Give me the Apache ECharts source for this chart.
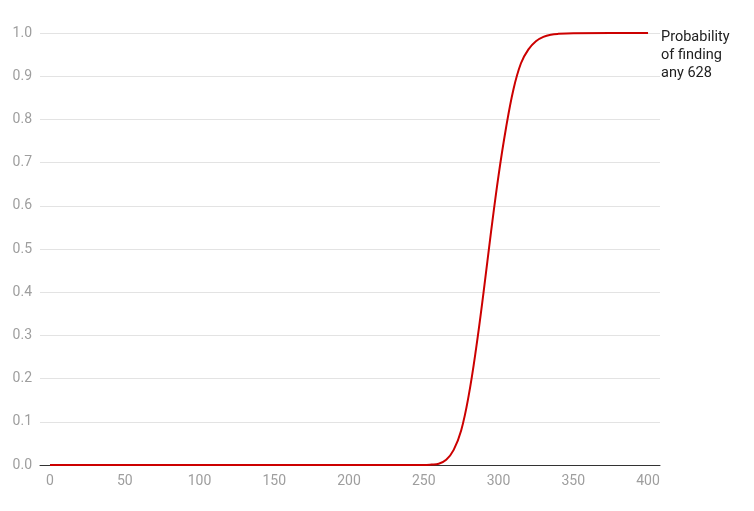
<!DOCTYPE html>
<html><head><meta charset="utf-8">
<script src="https://cdn.jsdelivr.net/npm/echarts@6/dist/echarts.min.js"></script>
<style>html,body{margin:0;padding:0;background:#fff}#c{width:754px;height:511px}</style>
</head><body><div id="c"></div>
<script>
const xValues = [0, 50, 100, 150, 200, 250, 255, 260, 265, 270, 275, 280, 285, 290, 295, 300, 305, 310, 315, 320, 325, 330, 335, 340, 350, 375, 400];
const probability = [0, 0, 0, 0, 0, 0, 0.001, 0.003, 0.012, 0.035, 0.08, 0.16, 0.27, 0.40, 0.54, 0.67, 0.78, 0.87, 0.93, 0.962, 0.981, 0.991, 0.996, 0.998, 0.9995, 1.0, 1.0];
const xTicks = [0, 50, 100, 150, 200, 250, 300, 350, 400];
const seriesName = 'Probability\nof finding\nany 628';

const chart = echarts.init(document.getElementById('c'));
chart.setOption({
  animation: false,
  grid: {left: 40, right: 94, top: 33, bottom: 46},
  xAxis: {
    type: 'value', min: -6.7, max: 408,
    axisLine: {show: true, lineStyle: {color: '#333', width: 1}},
    axisTick: {show: false},
    splitLine: {show: false},
    axisLabel: {customValues: xTicks, color: '#9e9e9e', fontFamily: 'Roboto', fontSize: 14, margin: 9}
  },
  yAxis: {
    type: 'value', min: 0, max: 1, interval: 0.1,
    axisLine: {show: false}, axisTick: {show: false},
    splitLine: {lineStyle: {color: '#e3e3e3', width: 1}},
    axisLabel: {formatter: v => v.toFixed(1), color: '#9e9e9e', fontFamily: 'Roboto', fontSize: 14, margin: 8}
  },
  series: [{
    name: seriesName,
    type: 'line',
    data: xValues.map((x, i) => [x, probability[i]]),
    smooth: 0.4,
    showSymbol: false,
    lineStyle: {color: '#cc0000', width: 2},
    endLabel: {
      show: true, formatter: seriesName, color: '#212121', fontFamily: 'Roboto', fontSize: 14.5,
      lineHeight: 18, align: 'left', verticalAlign: 'top', distance: 13, offset: [0, -5]
    }
  }]
});
</script></body></html>
